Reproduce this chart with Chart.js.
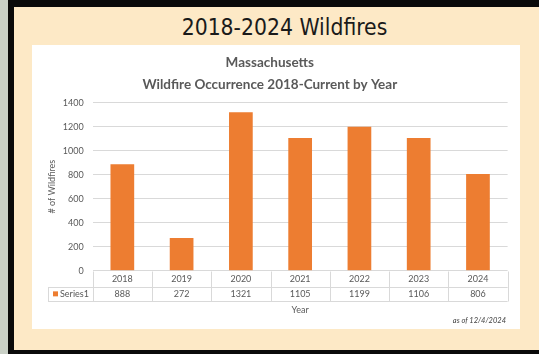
<!DOCTYPE html>
<html>
<head>
<meta charset="utf-8">
<script src="https://cdn.jsdelivr.net/npm/chart.js@4.4.1/dist/chart.umd.min.js"></script>
<style>
  html, body { margin: 0; padding: 0; }
  body { width: 539px; height: 354px; position: relative; overflow: hidden; background: #c9d0c6; }
  #frame { position: absolute; left: 8px; top: 0; width: 531px; height: 354px; background: #0a0a0a; }
  #panel { position: absolute; left: 14px; top: 7px; width: 525px; height: 343px; background: #fde9c6; }
  #heading { position: absolute; left: 0; top: 13px; width: 539px; text-align: center; padding-left: 30px; box-sizing: border-box;
    font-family: "DejaVu Sans Condensed", "DejaVu Sans", sans-serif; font-stretch: condensed; font-size: 22.7px; color: #1a1a1a; line-height: 28px; }
  #card { position: absolute; left: 32px; top: 45px; width: 488px; height: 284px; background: #ffffff; }
  #note { position: absolute; right: 33px; top: 316px; font-family: Lato, sans-serif; font-style: italic; font-size: 7.5px; color: #404040; }
</style>
</head>
<body>
<div id="frame"></div>
<div id="panel"></div>
<div id="heading">2018-2024 Wildfires</div>
<div id="card"><canvas id="c" width="488" height="284"></canvas></div>
<div id="note">as of 12/4/2024</div>
<script>
const years = ['2018', '2019', '2020', '2021', '2022', '2023', '2024'];
const wildfires = [888, 272, 1321, 1105, 1199, 1106, 806];
const seriesName = 'Series1';
const titleLines = ['Massachusetts', 'Wildfire Occurrence 2018-Current by Year'];
const yAxisTitle = '# of Wildfires';
const xAxisTitle = 'Year';

const ORANGE = '#ed7d31';
const GRID = '#d9d9d9';
const TEXT = '#595959';
const FONT = 'Lato, "Open Sans", sans-serif';

const dataTable = {
  id: 'dataTable',
  afterDraw(chart) {
    const { ctx, chartArea } = chart;
    const x = chart.scales.x;
    const top = chartArea.bottom;
    const r1 = top + 16.3;
    const r2 = top + 30;
    const keyLeft = 16;
    const n = years.length;
    const centers = years.map((_, i) => x.getPixelForValue(i));
    const bounds = [chartArea.left];
    for (let i = 0; i < n - 1; i++) bounds.push((centers[i] + centers[i + 1]) / 2);
    bounds.push(chartArea.right);
    ctx.save();
    ctx.strokeStyle = GRID;
    ctx.lineWidth = 1;
    const px = v => Math.round(v) + 0.5;
    ctx.beginPath();
    ctx.moveTo(keyLeft, px(r1)); ctx.lineTo(chartArea.right, px(r1));
    ctx.moveTo(keyLeft, px(r2)); ctx.lineTo(chartArea.right, px(r2));
    ctx.moveTo(px(keyLeft), px(r1)); ctx.lineTo(px(keyLeft), px(r2));
    bounds.forEach(b => { ctx.moveTo(px(b), px(top)); ctx.lineTo(px(b), px(r2)); });
    ctx.stroke();
    ctx.fillStyle = TEXT;
    ctx.font = '9px ' + FONT;
    ctx.textAlign = 'center';
    ctx.textBaseline = 'middle';
    centers.forEach((c, i) => {
      ctx.fillText(years[i], c, (top + r1) / 2 + 0.5);
      ctx.fillText(String(wildfires[i]), c, (r1 + r2) / 2 + 0.5);
    });
    ctx.fillStyle = ORANGE;
    ctx.fillRect(21, (r1 + r2) / 2 - 2.5, 5, 5);
    ctx.fillStyle = TEXT;
    ctx.textAlign = 'left';
    ctx.fillText(seriesName, 28, (r1 + r2) / 2 + 0.5);
    ctx.restore();
  }
};

new Chart(document.getElementById('c'), {
  type: 'bar',
  data: {
    labels: years,
    datasets: [{
      label: seriesName,
      data: wildfires,
      backgroundColor: ORANGE,
      borderWidth: 0,
      categoryPercentage: 1,
      barPercentage: 0.4
    }]
  },
  options: {
    responsive: false,
    animation: false,
    devicePixelRatio: 1,
    layout: { padding: { left: 0, right: 12.4, top: 0, bottom: 13.6 } },
    plugins: {
      legend: { display: false },
      tooltip: { enabled: false },
      title: {
        display: true,
        text: titleLines,
        color: TEXT,
        font: { family: FONT, size: 13.5, weight: 'bold', lineHeight: 1.63 },
        padding: { top: 7, bottom: 6.7 }
      }
    },
    scales: {
      x: {
        grid: { display: false, drawTicks: false },
        border: { display: false },
        ticks: { display: false },
        title: {
          display: true, text: xAxisTitle, color: TEXT,
          font: { family: FONT, size: 9, lineHeight: 1.2 },
          padding: { top: 33.9, bottom: 0 }
        }
      },
      y: {
        min: 0, max: 1400,
        ticks: { stepSize: 200, color: TEXT, padding: 9, font: { family: FONT, size: 9 },
          callback: v => String(v) },
        grid: { color: GRID, drawTicks: false, lineWidth: 1 },
        border: { display: false },
        title: {
          display: true, text: yAxisTitle, color: TEXT,
          font: { family: FONT, size: 9, lineHeight: 1.2 },
          padding: { top: 14.6, bottom: 0 }
        },
        afterFit(scale) { scale.width = 60.7; }
      }
    }
  },
  plugins: [dataTable]
});
</script>
</body>
</html>
